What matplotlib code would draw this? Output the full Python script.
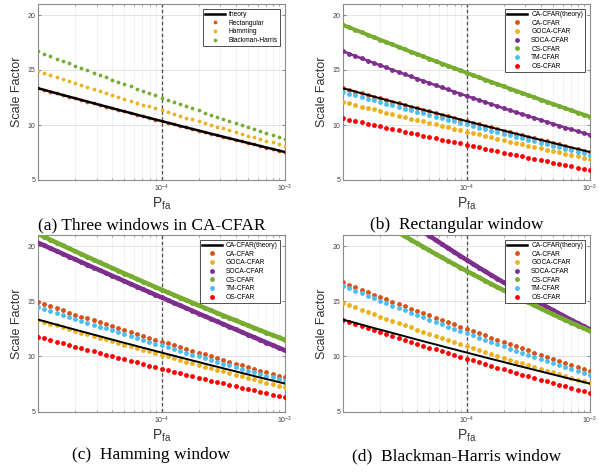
import numpy as np
import matplotlib
matplotlib.use('Agg')
from matplotlib import pyplot as plt
from matplotlib.ticker import LogLocator, NullFormatter

matplotlib.rcParams.update({'font.family': 'Liberation Sans', 'mathtext.default': 'regular'})

# log10(Pfa) grid of the simulation
pfa_exp = [-5.00, -4.95, -4.90, -4.85, -4.80, -4.75, -4.70, -4.65, -4.60, -4.55,
           -4.50, -4.45, -4.40, -4.35, -4.30, -4.25, -4.20, -4.15, -4.10, -4.05,
           -4.00, -3.95, -3.90, -3.85, -3.80, -3.75, -3.70, -3.65, -3.60, -3.55,
           -3.50, -3.45, -3.40, -3.35, -3.30, -3.25, -3.20, -3.15, -3.10, -3.05, -3.00]

theory = [13.34, 13.19, 13.04, 12.88, 12.73, 12.58, 12.43, 12.28, 12.13, 11.98, 11.83,
          11.68, 11.53, 11.38, 11.23, 11.09, 10.94, 10.79, 10.65, 10.50, 10.36, 10.21,
          10.07, 9.92, 9.78, 9.64, 9.50, 9.35, 9.21, 9.07, 8.93, 8.79, 8.65, 8.51, 8.37,
          8.23, 8.09, 7.95, 7.82, 7.68, 7.54]

# CA-CFAR with the three windows (a); also CA-CFAR curves of (b), (c), (d)
ca_rect = theory
ca_hamming = [14.90, 14.72, 14.53, 14.35, 14.17, 13.98, 13.80, 13.62, 13.44, 13.27, 13.09,
              12.91, 12.73, 12.56, 12.38, 12.21, 12.04, 11.86, 11.69, 11.52, 11.35, 11.18,
              11.01, 10.84, 10.68, 10.51, 10.34, 10.18, 10.01, 9.85, 9.69, 9.53, 9.36, 9.20,
              9.04, 8.88, 8.73, 8.57, 8.41, 8.26, 8.10]
ca_bh = [16.70, 16.48, 16.26, 16.04, 15.83, 15.61, 15.40, 15.18, 14.97, 14.76, 14.55, 14.34,
         14.13, 13.92, 13.72, 13.51, 13.31, 13.10, 12.90, 12.70, 12.50, 12.30, 12.10, 11.90,
         11.71, 11.51, 11.32, 11.12, 10.93, 10.74, 10.55, 10.36, 10.17, 9.98, 9.80, 9.61,
         9.43, 9.24, 9.06, 8.88, 8.70]

# (b) Rectangular window
goca_rect = [12.10, 11.96, 11.82, 11.68, 11.54, 11.41, 11.27, 11.13, 11.00, 10.86, 10.73,
             10.59, 10.46, 10.32, 10.19, 10.06, 9.92, 9.79, 9.66, 9.53, 9.40, 9.27, 9.14,
             9.01, 8.88, 8.76, 8.63, 8.50, 8.38, 8.25, 8.13, 8.00, 7.88, 7.75, 7.63, 7.51,
             7.38, 7.26, 7.14, 7.02, 6.90]
soca_rect = [16.70, 16.49, 16.27, 16.06, 15.85, 15.64, 15.43, 15.23, 15.02, 14.82, 14.61,
             14.41, 14.21, 14.01, 13.81, 13.62, 13.42, 13.23, 13.03, 12.84, 12.65, 12.46,
             12.27, 12.09, 11.90, 11.72, 11.53, 11.35, 11.17, 10.99, 10.81, 10.64, 10.46,
             10.29, 10.11, 9.94, 9.77, 9.60, 9.43, 9.27, 9.10]
cs_rect = [19.10, 18.87, 18.65, 18.43, 18.20, 17.98, 17.76, 17.54, 17.32, 17.10, 16.88,
           16.66, 16.45, 16.23, 16.02, 15.80, 15.59, 15.38, 15.17, 14.96, 14.75, 14.54,
           14.33, 14.13, 13.92, 13.72, 13.51, 13.31, 13.11, 12.91, 12.71, 12.51, 12.31,
           12.11, 11.91, 11.72, 11.52, 11.33, 11.13, 10.94, 10.75]
tm_rect = [13.00, 12.85, 12.70, 12.54, 12.39, 12.24, 12.09, 11.94, 11.80, 11.65, 11.50,
           11.35, 11.21, 11.06, 10.91, 10.77, 10.62, 10.48, 10.34, 10.19, 10.05, 9.91,
           9.77, 9.62, 9.48, 9.34, 9.20, 9.06, 8.93, 8.79, 8.65, 8.51, 8.38, 8.24, 8.10,
           7.97, 7.83, 7.70, 7.57, 7.43, 7.30]
os_rect = [10.60, 10.48, 10.36, 10.23, 10.11, 9.99, 9.87, 9.75, 9.63, 9.51, 9.39, 9.27,
           9.15, 9.03, 8.91, 8.79, 8.67, 8.55, 8.44, 8.32, 8.20, 8.08, 7.97, 7.85, 7.73,
           7.62, 7.50, 7.38, 7.27, 7.15, 7.04, 6.92, 6.81, 6.69, 6.58, 6.47, 6.35, 6.24,
           6.13, 6.01, 5.90]

# (c) Hamming window
goca_hamming = [13.30, 13.14, 12.98, 12.81, 12.65, 12.49, 12.33, 12.17, 12.02, 11.86, 11.70,
                11.54, 11.39, 11.23, 11.07, 10.92, 10.76, 10.61, 10.46, 10.30, 10.15, 10.00,
                9.85, 9.69, 9.54, 9.39, 9.24, 9.09, 8.95, 8.80, 8.65, 8.50, 8.36, 8.21, 8.06,
                7.92, 7.77, 7.63, 7.49, 7.34, 7.20]
soca_hamming = [20.30, 20.05, 19.80, 19.55, 19.30, 19.05, 18.80, 18.55, 18.30, 18.05, 17.81,
                17.56, 17.31, 17.07, 16.82, 16.57, 16.33, 16.08, 15.84, 15.59, 15.35, 15.11,
                14.86, 14.62, 14.38, 14.14, 13.89, 13.65, 13.41, 13.17, 12.93, 12.69, 12.45,
                12.21, 11.97, 11.74, 11.50, 11.26, 11.02, 10.79, 10.55]
cs_hamming = [21.10, 20.84, 20.57, 20.31, 20.05, 19.79, 19.53, 19.28, 19.02, 18.77, 18.51,
              18.26, 18.01, 17.76, 17.51, 17.27, 17.02, 16.78, 16.53, 16.29, 16.05, 15.81,
              15.57, 15.34, 15.10, 14.87, 14.63, 14.40, 14.17, 13.94, 13.71, 13.49, 13.26,
              13.04, 12.81, 12.59, 12.37, 12.15, 11.93, 11.72, 11.50]
tm_hamming = [14.50, 14.32, 14.14, 13.96, 13.78, 13.60, 13.42, 13.24, 13.06, 12.89, 12.71,
              12.54, 12.36, 12.19, 12.02, 11.85, 11.68, 11.51, 11.34, 11.17, 11.00, 10.83,
              10.67, 10.50, 10.34, 10.17, 10.01, 9.85, 9.68, 9.52, 9.36, 9.20, 9.04, 8.89,
              8.73, 8.57, 8.42, 8.26, 8.11, 7.95, 7.80]
os_hamming = [11.80, 11.65, 11.50, 11.35, 11.20, 11.05, 10.90, 10.75, 10.60, 10.46, 10.31,
              10.17, 10.02, 9.88, 9.74, 9.60, 9.46, 9.32, 9.18, 9.04, 8.90, 8.76, 8.63, 8.49,
              8.36, 8.22, 8.09, 7.96, 7.82, 7.69, 7.56, 7.43, 7.30, 7.18, 7.05, 6.92, 6.80,
              6.67, 6.55, 6.42, 6.30]

# (d) Blackman-Harris window
goca_bh = [14.85, 14.64, 14.44, 14.23, 14.03, 13.82, 13.62, 13.42, 13.22, 13.03, 12.83,
           12.64, 12.44, 12.25, 12.06, 11.87, 11.69, 11.50, 11.32, 11.13, 10.95, 10.77,
           10.59, 10.41, 10.24, 10.06, 9.89, 9.71, 9.54, 9.37, 9.21, 9.04, 8.87, 8.71, 8.55,
           8.39, 8.23, 8.07, 7.91, 7.75, 7.60]
soca_bh = [26.50, 26.08, 25.66, 25.25, 24.83, 24.43, 24.02, 23.62, 23.23, 22.83, 22.44,
           22.06, 21.68, 21.30, 20.92, 20.55, 20.18, 19.82, 19.46, 19.10, 18.75, 18.40,
           18.05, 17.71, 17.37, 17.04, 16.71, 16.38, 16.06, 15.74, 15.42, 15.11, 14.80,
           14.49, 14.19, 13.89, 13.59, 13.30, 13.01, 12.73, 12.45]
cs_bh = [24.30, 23.95, 23.60, 23.25, 22.90, 22.56, 22.22, 21.88, 21.55, 21.22, 20.89, 20.56,
         20.24, 19.92, 19.60, 19.28, 18.97, 18.66, 18.36, 18.05, 17.75, 17.45, 17.16, 16.86,
         16.57, 16.28, 16.00, 15.72, 15.44, 15.16, 14.89, 14.62, 14.35, 14.08, 13.82, 13.56,
         13.30, 13.05, 12.80, 12.55, 12.30]
tm_bh = [16.40, 16.17, 15.95, 15.72, 15.50, 15.27, 15.05, 14.83, 14.61, 14.40, 14.18, 13.97,
         13.75, 13.54, 13.33, 13.12, 12.92, 12.71, 12.51, 12.30, 12.10, 11.90, 11.70, 11.50,
         11.31, 11.11, 10.92, 10.72, 10.53, 10.34, 10.16, 9.97, 9.78, 9.60, 9.42, 9.24,
         9.06, 8.88, 8.70, 8.52, 8.35]
os_bh = [13.30, 13.12, 12.93, 12.75, 12.57, 12.39, 12.21, 12.03, 11.85, 11.68, 11.50, 11.33,
         11.15, 10.98, 10.81, 10.64, 10.47, 10.30, 10.13, 9.97, 9.80, 9.64, 9.47, 9.31,
         9.15, 8.99, 8.83, 8.67, 8.51, 8.36, 8.20, 8.05, 7.89, 7.74, 7.59, 7.44, 7.29,
         7.14, 6.99, 6.85, 6.70]

pfa = 10.0 ** np.array(pfa_exp)

c_ca = '#D95319'
c_goca = '#EDB120'
c_soca = '#7E2F8E'
c_cs = '#77AC30'
c_tm = '#4DBEEE'
c_os = '#FF0000'


def setup_axes(ax):
    ax.set_xscale('log')
    ax.set_xlim(1e-5, 1e-3)
    ax.set_ylim(5, 21)
    ax.set_xticks([1e-4, 1e-3])
    ax.xaxis.set_minor_locator(LogLocator(base=10, subs=np.arange(2, 10)))
    ax.xaxis.set_minor_formatter(NullFormatter())
    ax.set_yticks([5, 10, 15, 20])
    ax.set_axisbelow(True)
    ax.grid(True, which='major', color='#dedede', lw=0.6)
    ax.grid(True, which='minor', axis='x', color='#efefef', lw=0.5)
    ax.axvline(1e-4, color='#555555', ls=(0, (2.5, 1.8)), lw=1.0, zorder=1.5)
    ax.tick_params(which='both', direction='in', top=True, right=True, colors='#8c8c8c',
                   labelcolor='#404040', labelsize=5, length=2.5, pad=2)
    ax.tick_params(which='minor', length=1.5)
    for s in ax.spines.values():
        s.set_color('#8c8c8c')
        s.set_linewidth(0.8)
    ax.set_ylabel('Scale Factor', fontsize=9, color='#333333', labelpad=3)
    ax.set_xlabel('$P_{fa}$', fontsize=10, color='#333333', labelpad=1)


def draw_panel(ax, theory_label, series, ms, lw_theory=1.4, dense=()):
    setup_axes(ax)
    ax.plot(pfa, theory, color='k', lw=lw_theory, label=theory_label, zorder=4)
    for label, vals, col in series:
        if label in dense:
            # densely sampled curves render as a thick solid band
            ax.plot(pfa, vals, ls='-', lw=dense[label], marker='o', ms=ms, mew=0,
                    color=col, label=label, zorder=3)
        else:
            ax.plot(pfa, vals, ls='none', marker='o', ms=ms, mew=0, color=col,
                    label=label, zorder=3)
    handles, labels = ax.get_legend_handles_labels()
    leg = ax.legend(handles, labels, loc='upper right', fontsize=4.8, numpoints=1,
                    handlelength=3.0, labelspacing=0.25, borderaxespad=0.7,
                    borderpad=0.35, handletextpad=0.6, fancybox=False, framealpha=1,
                    edgecolor='#333333')
    leg.get_frame().set_linewidth(0.6)
    for h in leg.legend_handles[1:]:
        h.set_linestyle('none')
    leg.legend_handles[0].set_linewidth(1.8)


fig = plt.figure(figsize=(6.07, 4.74), dpi=100)
W, H = 607, 474


def make_axes(x0, x1, y0, y1):
    return fig.add_axes([x0 / W, 1 - y1 / H, (x1 - x0) / W, (y1 - y0) / H])


ax_a = make_axes(38, 285, 4, 180)
ax_b = make_axes(343, 590, 4, 180)
ax_c = make_axes(38, 285, 235, 411.7)
ax_d = make_axes(343, 590, 235, 411.7)

draw_panel(ax_a, 'theory', [
    ('Rectangular', ca_rect, c_ca),
    ('Hamming', ca_hamming, c_goca),
    ('Blackman-Harris', ca_bh, c_cs),
], ms=2.7, lw_theory=1.8)

draw_panel(ax_b, 'CA-CFAR(theory)', [
    ('CA-CFAR', ca_rect, c_ca),
    ('GOCA-CFAR', goca_rect, c_goca),
    ('SOCA-CFAR', soca_rect, c_soca),
    ('CS-CFAR', cs_rect, c_cs),
    ('TM-CFAR', tm_rect, c_tm),
    ('OS-CFAR', os_rect, c_os),
], ms=3.5, dense={'CS-CFAR': 2.8, 'SOCA-CFAR': 1.8})

draw_panel(ax_c, 'CA-CFAR(theory)', [
    ('CA-CFAR', ca_hamming, c_ca),
    ('GOCA-CFAR', goca_hamming, c_goca),
    ('SOCA-CFAR', soca_hamming, c_soca),
    ('CS-CFAR', cs_hamming, c_cs),
    ('TM-CFAR', tm_hamming, c_tm),
    ('OS-CFAR', os_hamming, c_os),
], ms=3.5, dense={'CS-CFAR': 3.3, 'SOCA-CFAR': 3.3})

draw_panel(ax_d, 'CA-CFAR(theory)', [
    ('CA-CFAR', ca_bh, c_ca),
    ('GOCA-CFAR', goca_bh, c_goca),
    ('SOCA-CFAR', soca_bh, c_soca),
    ('CS-CFAR', cs_bh, c_cs),
    ('TM-CFAR', tm_bh, c_tm),
    ('OS-CFAR', os_bh, c_os),
], ms=3.5, dense={'CS-CFAR': 3.3, 'SOCA-CFAR': 3.3})

captions = [
    (152, 225, '(a) Three windows in CA-CFAR'),
    (457, 225, '(b)  Rectangular window'),
    (151, 455, '(c)  Hamming window'),
    (457, 456, '(d)  Blackman-Harris window'),
]
for cx, cy, txt in captions:
    fig.text(cx / W, 1 - cy / H, txt, family='Liberation Serif', fontsize=12.5,
             ha='center', va='center')

fig.savefig('out.png', dpi=100)
